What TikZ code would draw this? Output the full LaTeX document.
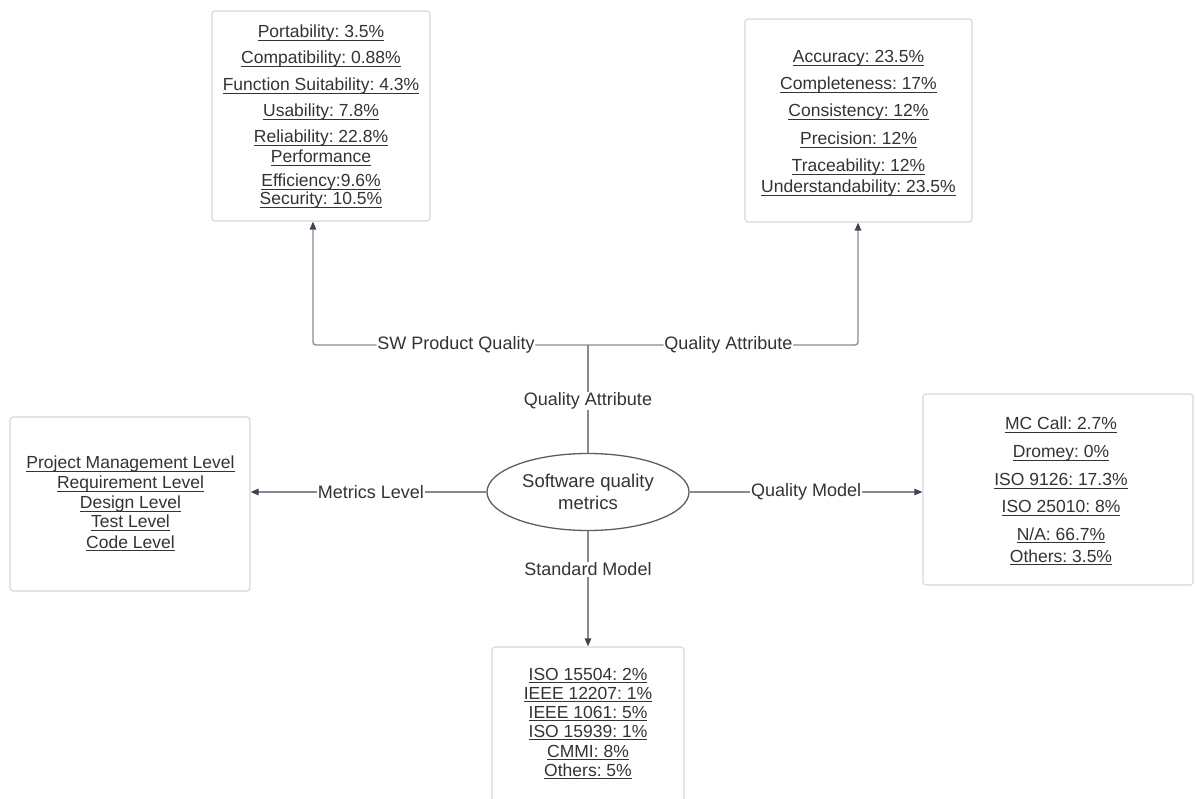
\documentclass[tikz,border=0pt]{standalone}
\usepackage{fontspec}
\setmainfont{Liberation Sans}
\usetikzlibrary{shapes.geometric,arrows.meta}
\definecolor{txt}{HTML}{333333}
\definecolor{lin}{HTML}{868B92}
\definecolor{arr}{HTML}{3E4552}
\definecolor{bord}{HTML}{D5D9DE}
\definecolor{ellc}{HTML}{5A5F66}
\frenchspacing
\newsavebox\ulbox
\newcommand\uln[1]{\sbox\ulbox{#1}\rlap{\rule[-3.2pt]{\wd\ulbox}{1.2pt}}\usebox\ulbox}
\begin{document}
\begin{tikzpicture}[x=1pt,y=-1pt,
  box/.style={draw=bord,line width=1.2pt,rounded corners=3pt,fill=white,inner sep=0pt},
  bt/.style={anchor=base,inner sep=0pt,text=txt,font=\fontsize{17.5}{20}\selectfont},
  lab/.style={fill=white,inner sep=0.8pt,text=txt,font=\fontsize{18}{20}\selectfont},
  conn/.style={draw=lin,line width=1.3pt},
  arrw/.style={conn,-{Triangle[length=8pt,width=6.5pt,color=arr]}}]
\path[use as bounding box] (0,0) rectangle (1195,799);
\clip (0,0) rectangle (1195,799);
\fill[white] (0,0) rectangle (1195,799);

% boxes
\node[box,minimum width=218pt,minimum height=210pt] (tl) at (321,116) {};
\node[box,minimum width=227pt,minimum height=203pt] (tr) at (858.5,120.5) {};
\node[box,minimum width=240pt,minimum height=174pt] (lb) at (130,504) {};
\node[box,minimum width=270pt,minimum height=191pt] (rb) at (1058,489.5) {};
\node[box,minimum width=192pt,minimum height=163pt] (bb) at (588,728.5) {};

% centre
\node[draw=ellc,line width=1.3pt,ellipse,minimum width=202pt,minimum height=77pt,inner sep=0pt,
  text=txt,align=center,font=\fontsize{18.5}{22}\selectfont] (ell) at (588,492) {Software quality\\metrics};

% top-left texts
\node[bt] (tl1) at (321,38) {\uln{Portability: 3.5\%}};
\node[bt] (tl2) at (321,64) {\uln{Compatibility: 0.88\%}};
\node[bt] (tl3) at (321,91) {\uln{Function Suitability: 4.3\%}};
\node[bt] (tl4) at (321,117) {\uln{Usability: 7.8\%}};
\node[bt] (tl5) at (321,143) {\uln{Reliability: 22.8\%}};
\node[bt] (tl6) at (321,163) {\uln{Performance}};
\node[bt] (tl7) at (321,187) {\uln{Efficiency:9.6\%}};
\node[bt] (tl8) at (321,205) {\uln{Security: 10.5\%}};

% top-right texts
\node[bt] (tr1) at (858.5,63) {\uln{Accuracy: 23.5\%}};
\node[bt] (tr2) at (858.5,90) {\uln{Completeness: 17\%}};
\node[bt] (tr3) at (858.5,117) {\uln{Consistency: 12\%}};
\node[bt] (tr4) at (858.5,145) {\uln{Precision: 12\%}};
\node[bt] (tr5) at (858.5,172) {\uln{Traceability: 12\%}};
\node[bt] (tr6) at (858.5,193) {\uln{Understandability: 23.5\%}};

% left texts
\node[bt] (lb1) at (130.5,469) {\uln{Project Management Level}};
\node[bt] (lb2) at (130.5,489) {\uln{Requirement Level}};
\node[bt] (lb3) at (130.5,509) {\uln{Design Level}};
\node[bt] (lb4) at (130.5,528) {\uln{Test Level}};
\node[bt] (lb5) at (130.5,548) {\uln{Code Level}};

% right texts
\node[bt] (rb1) at (1061,430) {\uln{MC Call: 2.7\%}};
\node[bt] (rb2) at (1061,458) {\uln{Dromey: 0\%}};
\node[bt] (rb3) at (1061,486) {\uln{ISO 9126: 17.3\%}};
\node[bt] (rb4) at (1061,513) {\uln{ISO 25010: 8\%}};
\node[bt] (rb5) at (1061,540) {\uln{N/A: 66.7\%}};
\node[bt] (rb6) at (1061,562) {\uln{Others: 3.5\%}};

% bottom texts
\node[bt] (bb1) at (588,680) {\uln{ISO 15504: 2\%}};
\node[bt] (bb2) at (588,699) {\uln{IEEE 12207: 1\%}};
\node[bt] (bb3) at (588,718) {\uln{IEEE 1061: 5\%}};
\node[bt] (bb4) at (588,737) {\uln{ISO 15939: 1\%}};
\node[bt] (bb5) at (588,757) {\uln{CMMI: 8\%}};
\node[bt] (bb6) at (588,776) {\uln{Others: 5\%}};

% connectors
\coordinate (junc) at (588,345);
\coordinate (tlx) at (313,0);
\coordinate (trx) at (858,0);
\draw[conn] (ell.north) -- node[lab,pos=0.48]{Quality Attribute} (junc);
\draw[arrw,rounded corners=3pt] (junc) -| node[lab,pos=0.24]{SW Product Quality} (tl.south -| tlx);
\draw[arrw,rounded corners=3pt] (junc) -| node[lab,pos=0.26]{Quality Attribute} (tr.south -| trx);
\draw[arrw] (ell.west) -- node[lab,pos=0.49]{Metrics Level} (ell.west -| lb.east);
\draw[arrw] (ell.east) -- node[lab,pos=0.5]{Quality Model} (ell.east -| rb.west);
\draw[arrw] (ell.south) -- node[lab,pos=0.33]{Standard Model} (bb.north);
\end{tikzpicture}
\end{document}
